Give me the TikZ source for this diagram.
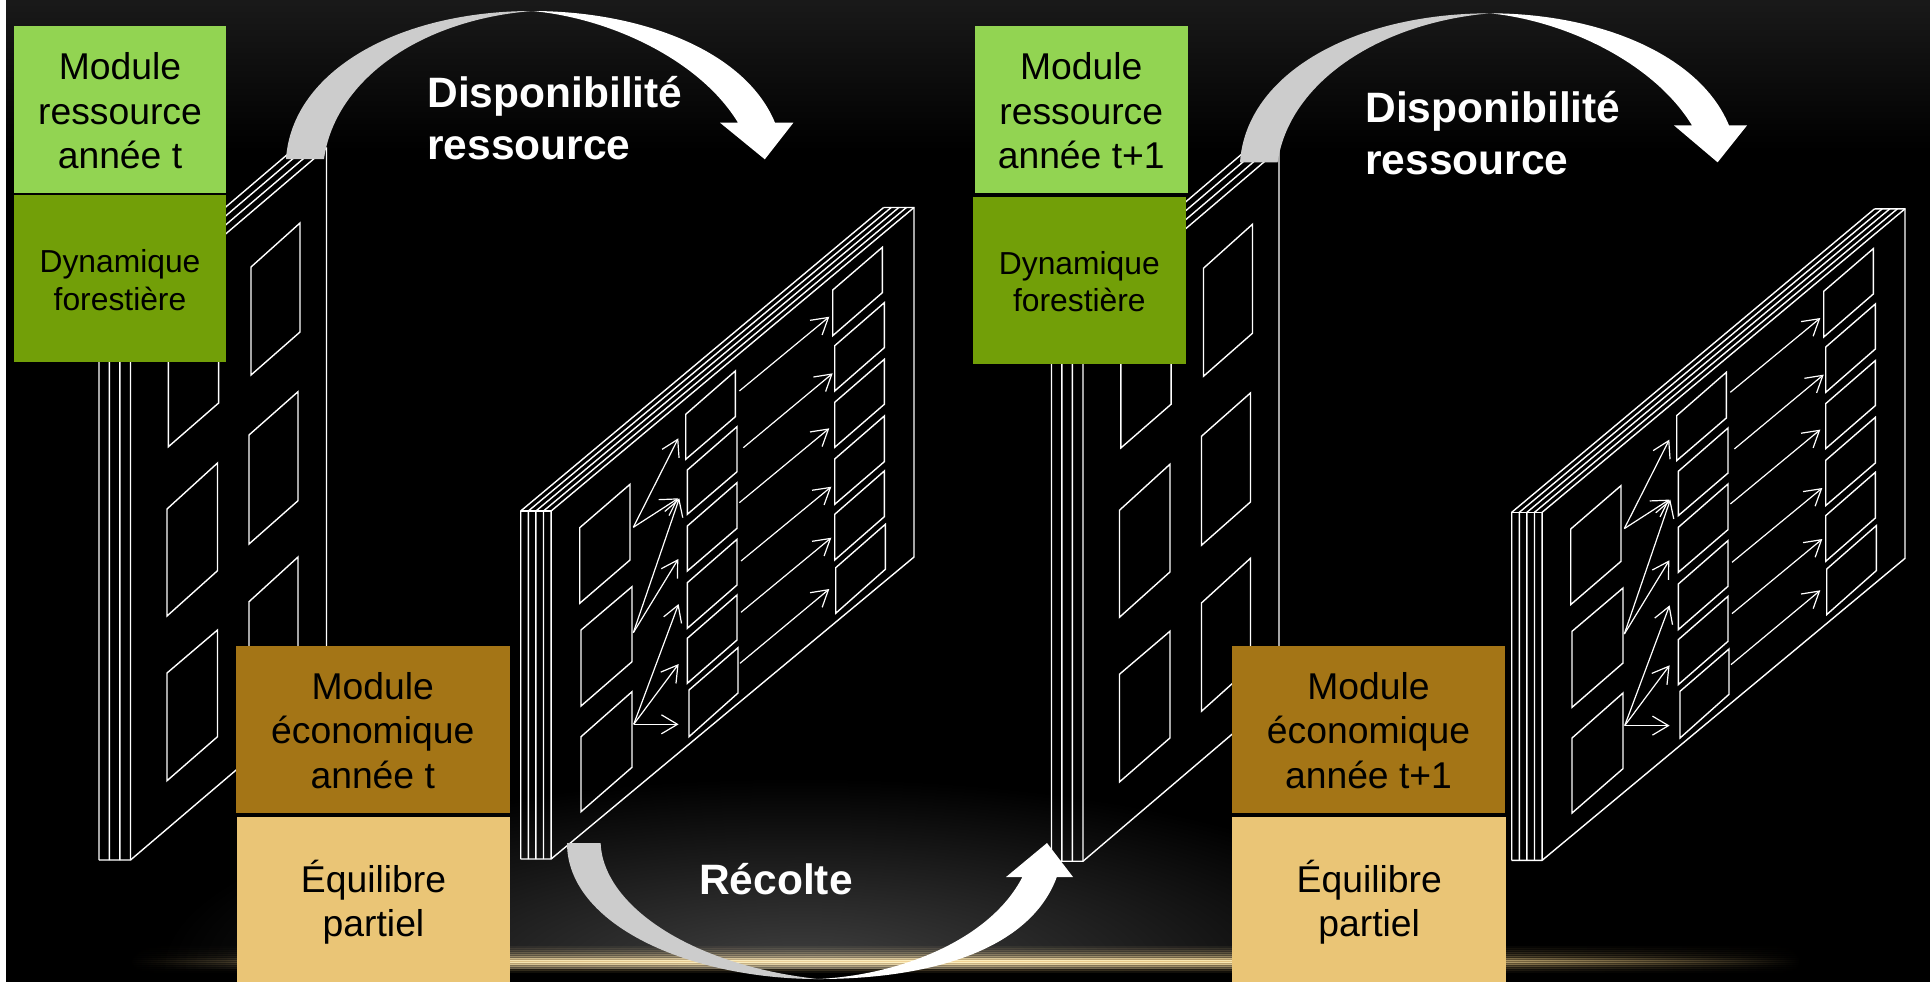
\documentclass[tikz,border=0pt]{standalone}
\usepackage{fontspec}
\setmainfont{Liberation Sans}
\usetikzlibrary{arrows.meta}
\definecolor{lgreen}{HTML}{92D452}
\definecolor{dgreen}{HTML}{729F08}
\definecolor{brownbox}{HTML}{A47516}
\definecolor{sandbox}{HTML}{EAC576}
\definecolor{glowc}{HTML}{EEC97E}
\definecolor{greyarrow}{HTML}{CCCCCC}
\tikzset{
  wire/.style={draw=white,line width=0.7pt,line join=miter},
  flowarrow/.style={draw=white,line width=0.6pt,-{Straight Barb[length=8pt,width=9.5pt]}},
  modbox/.style={inner sep=0pt,align=center,text=black,font=\fontsize{18.65pt}{22.35pt}\selectfont},
  dynbox/.style={inner sep=0pt,align=center,text=black,font=\fontsize{15.9pt}{18.7pt}\selectfont},
  boldlabel/.style={inner sep=0pt,align=left,text=white,font=\bfseries\fontsize{21.25pt}{26pt}\selectfont}
}
% one horizontal strip of the glowing line: #1 = top y, #2 = strength
\newcommand{\glowstrip}[2]{%
  \pgfdeclarehorizontalshading{gs#1}{100bp}{%
    color(0bp)=(black);color(25bp)=(black);
    color(27.9bp)=(glowc!#2!black!13!black);
    color(36.1bp)=(glowc!#2!black!90!black);
    color(50bp)=(glowc!#2!black);
    color(57.9bp)=(glowc!#2!black!94!black);
    color(66.1bp)=(glowc!#2!black!52!black);
    color(75bp)=(black);color(100bp)=(black)}%
  \shade[shading=gs#1] (130,#1) rectangle (1800,#1+2);}
% slab seen in perspective, four sheets (left column of each year)
\newcommand{\slabA}{%
  \foreach \i in {0,10.4,20.9,31.5}{
    \draw[wire] (99+\i,860) -- (99+\i,315) -- (295+\i,148);
  }
  \draw[wire] (99,860) -- (130.5,860) -- (326.5,693) -- (326.5,148) -- (295,148);
  \foreach \lx/\rx/\rt/\lt/\rb/\lb in {
    168.4/218.6/295/338/403/446.7,
    167/217.5/463/509/570.7/616,
    167/217.5/630/673/736.7/780.7,
    251/300/223/267/332/375,
    249/298/391.7/435/500.7/544,
    249/298/557/601.7/666/710}{
    \draw[wire] (\lx,\lt) -- (\rx,\rt) -- (\rx,\rb) -- (\lx,\lb) -- cycle;
  }}
% slab with the network, five sheets; #1 = prefix of the names
\newcommand{\slabB}[1]{%
  \foreach \i in {0,7.6,15.2,22.8,30.4}{
    \draw[wire] (520.7+\i,859) -- (520.7+\i,511) -- (883.6+\i,207.5);
  }
  \draw[wire] (520.7,859) -- (551.1,859) -- (914,557) -- (914,207.5) -- (883.6,207.5);
  \draw[wire] (520.7,511) -- (551.1,511);
  \foreach \lx/\rx/\rt/\lt/\rb/\lb in {
    579.7/630/484.3/527.7/560/603.3,
    581/632/586.7/630/661.7/706,
    581/632/691.7/736.7/767.3/811.7,
    685.7/735.3/371/414.3/416.7/459.3,
    687.3/737/426.7/470/471.7/514.3,
    687.3/737/482.7/526/528.3/571,
    687.3/737/539.3/582.7/585/628.3,
    687.3/737/595/638.3/640/683.3,
    689/738/647.7/690/693/736.7,
    832.7/882.3/247.3/290/292.7/335.7,
    834.7/884.3/302.7/345.7/347.7/391,
    834.7/884.3/359.3/402.3/404.3/447.3,
    834.7/884.3/416/459/461.7/504.3,
    834.7/884.3/471/514.3/516.7/560,
    835.7/885.3/524.3/567.7/569.3/613.3}{
    \draw[wire] (\lx,\lt) -- (\rx,\rt) -- (\rx,\rb) -- (\lx,\lb) -- cycle;
  }
  \foreach \a/\xs/\ys/\xe/\ye in {
    a/739.3/391/829.3/316.7,
    b/743.3/447.7/832.7/373.3,
    c/739.3/502.7/829.3/428.3,
    d/741/561/831.3/486.7,
    e/741/612.3/831.3/537.7,
    f/740/663.3/829.3/589,
    g/633.3/527.3/678.3/438.3,
    h/633.3/527.3/678.3/498.3,
    i/633.3/632.7/679.3/498.3,
    j/633.3/632.7/678.3/559,
    k/633.7/724.3/678.6/604,
    l/633.7/724.3/678.6/664,
    m/633.7/724.3/678.6/724.3}{
    \coordinate (#1s\a) at (\xs,\ys);
    \coordinate (#1e\a) at (\xe,\ye);
    \draw[flowarrow] (#1s\a) -- (#1e\a);
  }}
\begin{document}
\begin{tikzpicture}[x=0.5pt,y=-0.5pt]
\useasboundingbox (0,0) rectangle (1930,982);
% background
\fill[black] (0,0) rectangle (1930,982);
\shade[top color=black!90!white,bottom color=black] (0,0) rectangle (1930,150);
\begin{scope}
  \clip (0,760) rectangle (1930,968);
  \shade[inner color=black!75!white,outer color=black] (800,968) ellipse [x radius=640,y radius=190];
\end{scope}
\begin{scope}[blend mode=screen]
  \glowstrip{946}{6}
  \glowstrip{948}{10}
  \glowstrip{950}{15}
  \glowstrip{952}{22}
  \glowstrip{954}{30}
  \glowstrip{956}{42}
  \glowstrip{958}{75}
  \glowstrip{960}{100}
  \glowstrip{962}{80}
  \glowstrip{964}{48}
  \glowstrip{966}{30}
  \glowstrip{968}{16}
  \glowstrip{970}{8}
\end{scope}
\fill[white] (0,0) rectangle (6,982);
% slabs
\slabA
\begin{scope}[shift={(952.5,1.2)}]\slabA\end{scope}
\slabB{p}
\begin{scope}[shift={(991,1.3)}]\slabB{q}\end{scope}
% module boxes
\node[modbox,fill=lgreen,minimum width=106pt,minimum height=83.5pt] (res1) at (120,109.5) {\rule{0pt}{14.8pt}Module\\ressource\\année t};
\node[dynbox,fill=dgreen,minimum width=106pt,minimum height=83.5pt] (dyn1) at (120,278.5) {\rule{0pt}{13pt}Dynamique\\forestière};
\node[modbox,fill=brownbox,minimum width=136.75pt,minimum height=83.35pt] (eco1) at (372.75,729.35) {\rule{0pt}{14.8pt}Module\\économique\\année t};
\node[modbox,fill=sandbox,minimum width=136.5pt,minimum height=82.5pt] (equ1) at (373.5,899.5) {\rule{0pt}{18.8pt}Équilibre\\partiel};
\node[modbox,fill=lgreen,minimum width=106.25pt,minimum height=83.5pt] (res2) at (1081.25,109.5) {\rule{0pt}{14.8pt}Module\\ressource\\année t+1};
\node[dynbox,fill=dgreen,minimum width=106.35pt,minimum height=83.5pt] (dyn2) at (1079.35,280.5) {\rule{0pt}{12.4pt}Dynamique\\forestière};
\node[modbox,fill=brownbox,minimum width=136.5pt,minimum height=83.35pt] (eco2) at (1368.5,729.35) {\rule{0pt}{14.8pt}Module\\économique\\année t+1};
\node[modbox,fill=sandbox,minimum width=136.8pt,minimum height=82.5pt] (equ2) at (1369.2,899.5) {\rule{0pt}{18.8pt}Équilibre\\partiel};
% big arrows: Disponibilité 1
\fill[greyarrow] (286,159) .. controls (292,70) and (400,11) .. (532,11) .. controls (420,20) and (335,80) .. (324,159) -- cycle;
\fill[white] (532,11) .. controls (640,11) and (745,50) .. (775,122.7) -- (793.4,122.7) -- (764.8,159.3) -- (720,122.7) -- (738,122.7) .. controls (700,60) and (610,18) .. (532,11) -- cycle;
% Disponibilité 2
\fill[greyarrow] (1240,162.3) .. controls (1246,73) and (1355,13.3) .. (1490,13.3) .. controls (1378,23) and (1289,83) .. (1277.6,162.3) -- cycle;
\fill[white] (1490,13.3) .. controls (1596,13.3) and (1699,53) .. (1729,125.4) -- (1747,125.4) -- (1717.6,162.3) -- (1674,125.4) -- (1692,125.4) .. controls (1654,63) and (1566,21) .. (1490,13.3) -- cycle;
% Récolte
\fill[greyarrow] (567,843) .. controls (567,925) and (690,979) .. (818,979) .. controls (690,965) and (603,905) .. (600.6,843) -- cycle;
\fill[white] (818,979) .. controls (930,979) and (1030,950) .. (1056.8,877) -- (1073,877) -- (1047,843) -- (1006,877) -- (1022.4,877) .. controls (990,940) and (900,975) .. (818,979) -- cycle;
% labels
\node[boldlabel,anchor=west] (dl1) at (427,118) {Disponibilité\\ressource};
\node[boldlabel,anchor=west] (dl2) at (1365,133) {Disponibilité\\ressource};
\node[boldlabel] (rec) at (776,879) {Récolte};
\end{tikzpicture}
\end{document}
